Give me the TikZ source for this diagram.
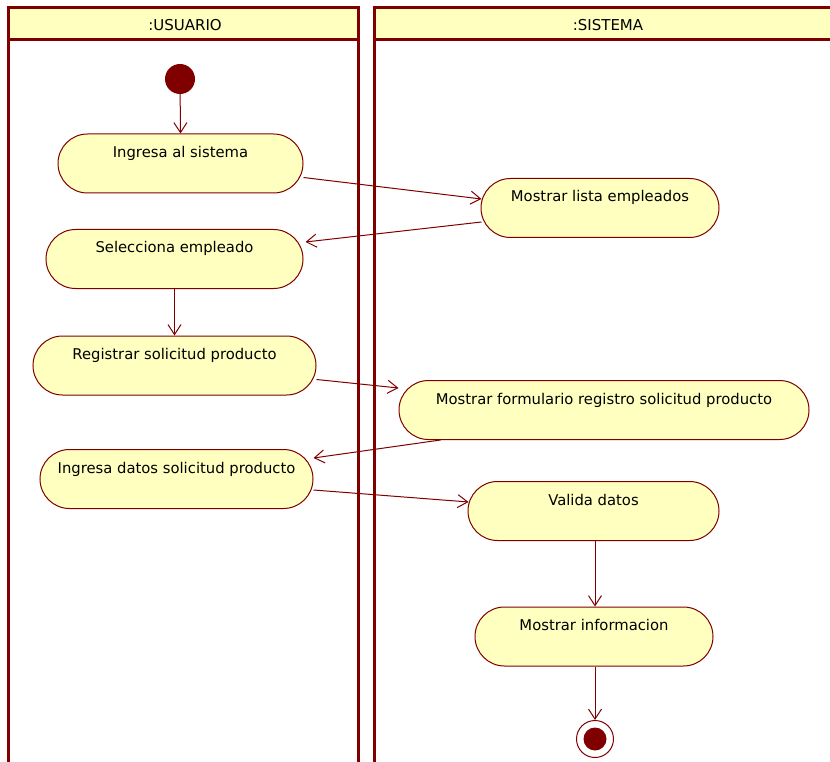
\documentclass[tikz,border=0pt]{standalone}
\usepackage{fontspec}
\setmainfont{DejaVu Sans}
\usetikzlibrary{arrows.meta,shapes.misc}
\definecolor{umlred}{HTML}{800000}
\definecolor{umlfill}{HTML}{FFFFC0}
\tikzset{
  lane/.style={draw=umlred,line width=3pt},
  lanehead/.style={draw=umlred,fill=umlfill,line width=3pt},
  act/.style={rounded rectangle,draw=umlred,fill=umlfill,line width=1pt,
    minimum height=59pt,inner sep=0pt,text height=8pt,text depth=20pt,
    font=\fontsize{14.8pt}{17pt}\selectfont},
  flow/.style={draw=umlred,line width=1pt,-{Straight Barb[length=10pt,width=13pt,line width=1pt]}},
  startnode/.style={circle,fill=umlred,minimum size=30pt,inner sep=0pt},
  endouter/.style={circle,draw=umlred,fill=white,line width=1pt,minimum size=37pt,inner sep=0pt},
  endinner/.style={circle,fill=umlred,minimum size=23pt,inner sep=0pt},
  headtext/.style={font=\fontsize{15pt}{17pt}\selectfont}
}
\begin{document}
\begin{tikzpicture}[x=1pt,y=-1pt]
\useasboundingbox (0,0) rectangle (830,762);
\clip (0,0) rectangle (830,762);
\fill[white] (0,0) rectangle (830,762);
% lanes
\draw[lane] (8,40) -- (8,800);
\draw[lane] (358,40) -- (358,800);
\draw[lane] (374,40) -- (374,800);
\draw[lanehead] (8,8) rectangle (358,40);
\draw[lanehead] (374,8) rectangle (840,40);
\node[headtext] (hu) at (185,25) {:USUARIO};
\node[headtext] (hs) at (608,25) {:SISTEMA};
% nodes
\node[startnode] (start) at (180,79) {};
\node[act,minimum width=245pt] (a1) at (180.5,163.5) {Ingresa al sistema};
\node[act,minimum width=238pt] (b1) at (600,208) {Mostrar lista empleados};
\node[act,minimum width=257pt] (a2) at (174.5,259) {Selecciona empleado};
\node[act,minimum width=283pt] (a3) at (174.5,365.5) {Registrar solicitud producto};
\node[act,minimum width=410pt] (b2) at (604,410) {Mostrar formulario registro solicitud producto};
\node[act,minimum width=273pt] (a4) at (176.5,479) {Ingresa datos solicitud producto};
\node[act,minimum width=251pt] (b3) at (593.5,511) {Valida datos};
\node[act,minimum width=238pt] (b4) at (594,636.5) {Mostrar informacion};
\node[endouter] (endo) at (595,739) {};
\node[endinner] (endi) at (595,739) {};
% flows
\draw[flow] (start) -- (a1.north);
\draw[flow] ([yshift=-14pt]a1.east) -- ([xshift=1pt,yshift=9pt]b1.west);
\draw[flow] ([xshift=1pt,yshift=-14pt]b1.west) -- ([xshift=2pt,yshift=17pt]a2.east);
\draw[flow] (a2.south) -- (a3.north);
\draw[flow] ([yshift=-14pt]a3.east) -- ([yshift=22pt]b2.west);
\draw[flow] ([xshift=12pt]b2.south west) -- ([yshift=21pt]a4.east);
\draw[flow] ([yshift=-11pt]a4.east) -- ([xshift=1pt,yshift=9pt]b3.west);
\draw[flow] ([xshift=1.5pt]b3.south) -- ([xshift=1pt]b4.north);
\draw[flow] ([xshift=1pt]b4.south) -- (endo.north);
\end{tikzpicture}
\end{document}
